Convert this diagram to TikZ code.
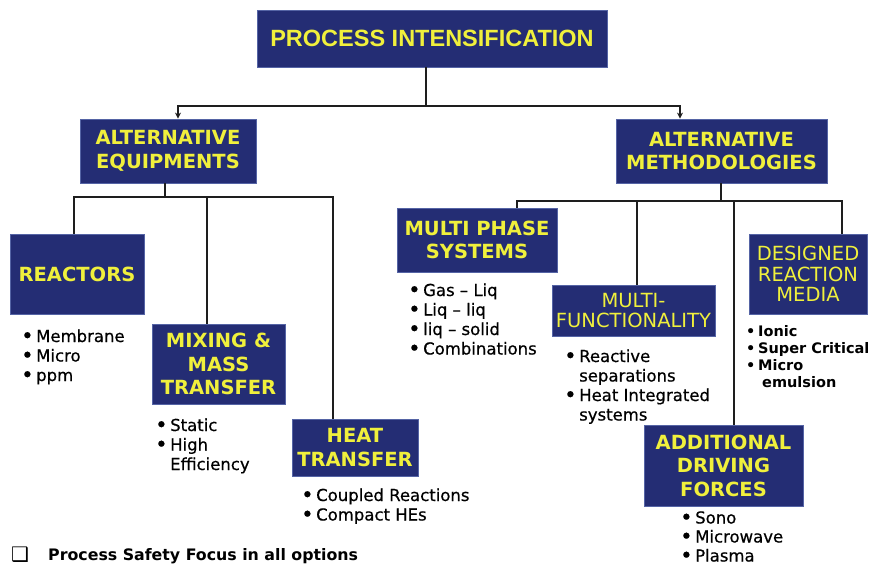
\documentclass[tikz,border=0pt]{standalone}
\usepackage{fontspec}
\setmainfont{DejaVu Sans}
\newfontfamily\titlefont{Liberation Sans}
\newfontfamily\lstfont{DejaVu Sans}[FakeBold=0.6]
\usetikzlibrary{arrows.meta}
\definecolor{boxblue}{RGB}{36,45,116}
\definecolor{boxedge}{RGB}{85,100,165}
\definecolor{boxtext}{RGB}{240,240,60}
\definecolor{linec}{RGB}{30,30,30}
\newcommand{\bdot}{\smash{\raisebox{-1pt}{\fontsize{21}{19.5}\selectfont •}}}
\newcommand{\blt}[1]{\makebox[15pt][l]{\bdot}#1}
\newcommand{\ind}{\hspace*{15pt}}
\begin{document}
\begin{tikzpicture}[x=1pt,y=-1pt,
  pbox/.style={fill=boxblue,draw=boxedge,line width=0.8pt,text=boxtext,align=center,inner sep=0pt,
    font=\fontsize{19.5}{23.5}\selectfont\bfseries},
  pboxr/.style={pbox,font=\fontsize{19.5}{20.5}\selectfont},
  conn/.style={draw=linec,line width=1.5pt},
  tip/.style={-{Stealth[length=6pt,width=6pt]}},
  lst/.style={anchor=base west,inner sep=0pt,align=left,text=black,
    font=\lstfont\fontsize{16.5}{19.5}\selectfont},
  lstb/.style={lst,font=\fontsize{14.5}{16.7}\selectfont\bfseries}]
\useasboundingbox (0,0) rectangle (872,567);

% boxes
\node[pbox,minimum width=350pt,minimum height=57pt,font=\titlefont\fontsize{23.5}{26}\selectfont\bfseries] (pi) at (432,38.5) {PROCESS INTENSIFICATION};
\node[pbox,minimum width=176pt,minimum height=64pt] (ae) at (168,151) {ALTERNATIVE\\EQUIPMENTS};
\node[pbox,minimum width=211pt,minimum height=64pt] (am) at (721.5,151) {ALTERNATIVE\\METHODOLOGIES};
\node[pbox,minimum width=134pt,minimum height=80pt] (re) at (77,274) {REACTORS};
\node[pbox,minimum width=133pt,minimum height=80pt] (mx) at (218.5,364) {MIXING \&\\MASS\\TRANSFER};
\node[pbox,minimum width=126pt,minimum height=57pt] (ht) at (355,447.5) {HEAT\\TRANSFER};
\node[pbox,minimum width=160pt,minimum height=64pt] (mp) at (477,240) {MULTI PHASE\\SYSTEMS};
\node[pboxr,minimum width=163pt,minimum height=51pt] (mf) at (633.5,310.5) {MULTI-\\FUNCTIONALITY};
\node[pboxr,minimum width=118pt,minimum height=80pt] (dr) at (808,274) {DESIGNED\\REACTION\\MEDIA};
\node[pbox,minimum width=159pt,minimum height=81pt] (ad) at (723.5,465.5) {ADDITIONAL\\DRIVING\\FORCES};

% connectors
\coordinate (j0) at (426,106);
\draw[conn] ([xshift=-6pt]pi.south) -- (j0);
\draw[conn,tip] (j0) -| ([xshift=10pt]ae.north);
\draw[conn,tip] (j0) -| ([xshift=-41.5pt]am.north);

\coordinate (j1) at (165,197);
\draw[conn] ([xshift=-3pt]ae.south) -- (j1);
\draw[conn] (j1) -| ([xshift=-3pt]re.north);
\draw[conn] (j1) -| ([xshift=-11.5pt]mx.north);
\draw[conn] (j1) -| ([xshift=-22pt]ht.north);

\coordinate (j2) at (721,201);
\draw[conn] ([xshift=-0.5pt]am.south) -- (j2);
\draw[conn] (j2) -| ([xshift=40pt]mp.north);
\draw[conn] (j2) -| ([xshift=3.5pt]mf.north);
\draw[conn] (j2) -| ([xshift=10.5pt]ad.north);
\draw[conn] (j2) -| ([xshift=34pt]dr.north);

% lists (anchored at the baseline of their last line)
\node[lst] (lre) at (21,381) {\blt{Membrane}\\\blt{Micro}\\\blt{ppm}};
\node[lst] (lmx) at (155,470) {\blt{Static}\\\blt{High}\\\ind Efficiency};
\node[lst] (lht) at (301,520.5) {\blt{Coupled Reactions}\\\blt{Compact HEs}};
\node[lst] (lmp) at (408,354.5) {\blt{Gas – Liq}\\\blt{Liq – liq}\\\blt{liq – solid}\\\blt{Combinations}};
\node[lst] (lmf) at (564,420.5) {\blt{Reactive}\\\ind separations\\\blt{Heat Integrated}\\\ind systems};
\node[lstb] (ldr) at (746,387) {\makebox[12pt][l]{•}Ionic\\\makebox[12pt][l]{•}Super Critical\\\makebox[12pt][l]{•}Micro\\\hspace*{16pt}emulsion};
\node[lst,font=\lstfont\fontsize{16.5}{19}\selectfont] (lad) at (680,561.5) {\blt{Sono}\\\blt{Microwave}\\\blt{Plasma}};

% footnote
\node[anchor=base west,inner sep=0pt,font=\fontsize{20}{22}\selectfont] (sq) at (11,561) {❑};
\node[anchor=base west,inner sep=0pt,font=\fontsize{15.8}{18}\selectfont\bfseries] (pf) at (48,560) {Process Safety Focus in all options};
\end{tikzpicture}
\end{document}
